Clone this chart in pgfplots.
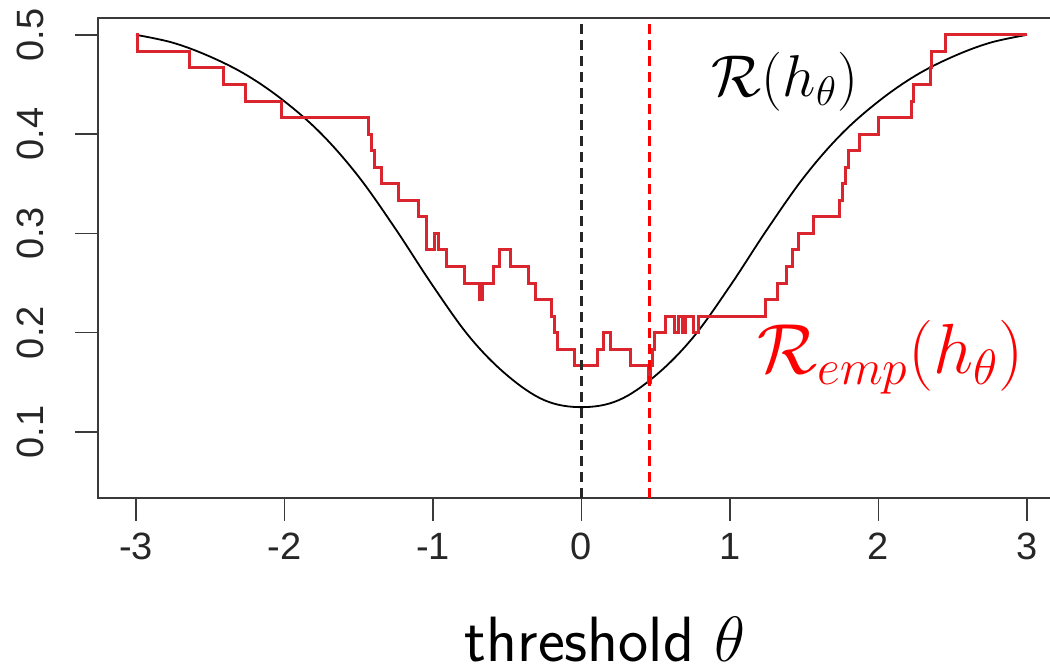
\RequirePackage{fix-cm}
\documentclass[border=0pt]{standalone}
\usepackage{fontspec}
\setmainfont{Liberation Sans}
\usepackage{pgfplots}
\pgfplotsset{compat=1.18}
\definecolor{EmpRed}{RGB}{218,36,46}
\definecolor{Frame}{HTML}{3A3A3A}
\begin{document}
\begin{tikzpicture}
\begin{axis}[at={(0,0)},anchor=south west,scale only axis,
  width=483.5pt,height=240pt,
  xmin=-3.256,xmax=3.256,ymin=0.0335,ymax=0.517,
  axis line style={line width=1pt,Frame},
  xtick={-3,-2,-1,0,1,2,3},xticklabels={-3,-2,-1,0,1,2,3},
  ytick={0.1,0.2,0.3,0.4,0.5},yticklabels={0.1,0.2,0.3,0.4,0.5},
  tick align=outside,tick pos=left,major tick length=11.5pt,
  tick style={line width=0.8pt,Frame},
  tick label style={font=\fontsize{19}{22}\selectfont,text=black!85},
  xticklabel style={yshift=-2.5pt},
  yticklabel style={xshift=-12pt,rotate=90,anchor=south},
  clip=false]
% true risk
\addplot[black,line width=0.9pt,smooth,tension=0.6] coordinates {
 (-3,0.5) (-2.75,0.492) (-2.5,0.478) (-2.25,0.459) (-2,0.433) (-1.75,0.400)
 (-1.5,0.357) (-1.25,0.304) (-1,0.247) (-0.75,0.195) (-0.5,0.157) (-0.25,0.132)
 (0,0.125) (0.25,0.132) (0.5,0.157) (0.75,0.195) (1,0.247) (1.25,0.304)
 (1.5,0.357) (1.75,0.400) (2,0.433) (2.25,0.459) (2.5,0.478) (2.75,0.492) (3,0.5)};
% empirical risk
\addplot[EmpRed,line width=1.5pt,const plot mark left] coordinates {
 (-3.0,0.5) (-2.99,0.48333) (-2.643,0.46667) (-2.413,0.45) (-2.263,0.43333)
 (-2.017,0.41667) (-1.436,0.4) (-1.415,0.38333) (-1.395,0.36667) (-1.345,0.35)
 (-1.233,0.33333) (-1.099,0.31667) (-1.043,0.28333) (-0.99,0.3) (-0.96,0.28333)
 (-0.908,0.26667) (-0.785,0.25) (-0.684,0.23333) (-0.667,0.25) (-0.594,0.26667)
 (-0.549,0.28333) (-0.481,0.26667) (-0.358,0.25) (-0.313,0.23333) (-0.2,0.21667)
 (-0.18,0.2) (-0.16,0.18333) (-0.044,0.16667) (0.11,0.18333) (0.147,0.2)
 (0.195,0.18333) (0.333,0.16667) (0.45,0.15) (0.465,0.16667) (0.475,0.18333)
 (0.49,0.2) (0.566,0.21667) (0.629,0.2) (0.65,0.21667) (0.677,0.2)
 (0.697,0.21667) (0.751,0.2) (0.785,0.21667) (1.242,0.23333) (1.32,0.25)
 (1.38,0.26667) (1.42,0.28333) (1.46,0.3) (1.56,0.31667) (1.735,0.33333)
 (1.755,0.35) (1.775,0.36667) (1.80,0.38333) (1.875,0.4) (2.0,0.41667)
 (2.22,0.43333) (2.235,0.45) (2.347,0.46667) (2.36,0.48333) (2.448,0.5) (3.0,0.5)};
% minimisers
\addplot[black!85,line width=1.3pt,dash pattern=on 5pt off 3pt] coordinates {(0,0.0335) (0,0.517)};
\addplot[red,line width=1.4pt,dash pattern=on 5pt off 3pt] coordinates {(0.46,0.0335) (0.46,0.517)};
\node[font=\fontsize{29.5}{35}\selectfont] at (axis cs:1.37,0.4526) {$\mathcal{R}(h_\theta)$};
\node[font=\fontsize{35.5}{42}\selectfont,text=red] at (axis cs:2.08,0.175) {$\mathcal{R}_{emp}(h_\theta)$};
\node[anchor=base,inner sep=0pt,font=\fontsize{32}{38}\selectfont] at ([yshift=-82pt]axis cs:0.158,0.0335) {\sffamily threshold $\theta$};
\end{axis}
\pgfresetboundingbox
\path[use as bounding box] (-49pt,-87pt) rectangle (476pt,249pt);
\end{tikzpicture}
\end{document}
